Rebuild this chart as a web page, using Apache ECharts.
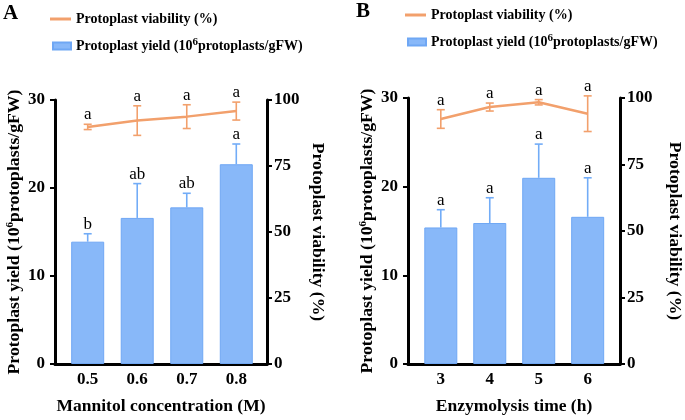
<!DOCTYPE html>
<html>
<head>
<meta charset="utf-8">
<script src="https://cdn.jsdelivr.net/npm/echarts@6/dist/echarts.min.js"></script>
<style>
  html, body { margin: 0; padding: 0; background: #fff; }
  #chart { width: 685px; height: 420px; }
</style>
</head>
<body>
<div id="chart"></div>
<script>
// Two-panel protoplast figure: yield bars (left axis) + viability line
// (right axis), panel A by mannitol concentration, panel B by digestion time.

// Panel A — mannitol concentration
const massLabels = ["0.5", "0.6", "0.7", "0.8"];
const massYield = [13.9, 16.6, 17.8, 22.7];
const massYieldErr = [0.9, 3.9, 1.6, 2.3];
const massYieldSig = ["b", "ab", "ab", "a"];
const massViab = [89.8, 92.2, 93.7, 95.8];
const massViabErr = [1.0, 5.6, 4.5, 3.4];
const massViabSig = ["a", "a", "a", "a"];

// Panel B — enzymolysis time
const timeLabels = ["3", "4", "5", "6"];
const timeYield = [15.4, 15.9, 21.0, 16.6];
const timeYieldErr = [2.0, 2.85, 3.8, 4.4];
const timeYieldSig = ["a", "a", "a", "a"];
const timeViab = [92.1, 96.6, 98.4, 94.1];
const timeViabErr = [3.5, 1.5, 1.0, 6.7];
const timeViabSig = ["a", "a", "a", "a"];

const FONT = "Liberation Serif";
const BAR = "#88b8f9";
const BAR_EDGE = "#6fa7f4";
const BAR_ERR = "#72acf7";
const LINE = "#f2a06c";
const VIAB_NAME = "Protoplast viability (%)";
const YIELD_NAME = "Protoplast yield (10{sup|6}protoplasts/gFW)";
const YIELD_LEGEND = "Protoplast yield";

const chart = echarts.init(document.getElementById("chart"), null, { renderer: "canvas" });

const richSup = {
  sup: { fontSize: 11, fontWeight: "bold", fontFamily: FONT, color: "#000", verticalAlign: "bottom", padding: [0, 0, 7, 0] },
};
const boldText = { fontFamily: FONT, fontWeight: "bold", fontSize: 17, color: "#000" };

function yAxis(grid, right, max, interval, name, gap) {
  return {
    type: "value", gridIndex: grid, position: right ? "right" : "left",
    min: 0, max, interval,
    name, nameLocation: "middle", nameRotate: right ? -90 : 90, nameGap: gap,
    nameTextStyle: { ...boldText, fontSize: 17.7, rich: richSup },
    axisLine: { show: true, onZero: false, lineStyle: { color: "#000", width: 3 } },
    axisTick: { show: true, length: 5, lineStyle: { color: "#000", width: 2 } },
    axisLabel: { ...boldText, margin: right ? 7 : 10 },
    splitLine: { show: false },
  };
}

function catAxis(grid, labels, min, max, title) {
  const idx = labels.map((_, i) => i);
  return {
    type: "value", gridIndex: grid, min, max,
    name: title, nameLocation: "middle", nameGap: 33,
    nameTextStyle: { ...boldText, fontSize: 17.5 },
    axisLine: { show: true, onZero: false, lineStyle: { color: "#000", width: 3 } },
    axisTick: { show: true, inside: true, length: 5, customValues: idx, lineStyle: { color: "#000", width: 2 } },
    axisLabel: { ...boldText, customValues: idx, margin: 7, formatter: (v) => labels[Math.round(v)] },
    splitLine: { show: false },
  };
}

function errBars(xi, yi, vals, errs, sig, color, both) {
  return {
    type: "custom", xAxisIndex: xi, yAxisIndex: yi, z: 4, clip: false,
    data: vals.map((v, i) => [i, v, errs[i]]),
    renderItem(params, api) {
      const x = api.value(0), v = api.value(1), e = api.value(2);
      const top = api.coord([x, v + e]);
      const bot = api.coord([x, both ? v - e : v]);
      const cap = 4;
      const st = { stroke: color, lineWidth: 1.6 };
      const kids = [
        { type: "line", shape: { x1: top[0], y1: top[1], x2: bot[0], y2: bot[1] }, style: st },
        { type: "line", shape: { x1: top[0] - cap, y1: top[1], x2: top[0] + cap, y2: top[1] }, style: st },
      ];
      if (both) {
        kids.push({ type: "line", shape: { x1: bot[0] - cap, y1: bot[1], x2: bot[0] + cap, y2: bot[1] }, style: st });
      }
      kids.push({
        type: "text",
        style: {
          text: sig[params.dataIndex], x: top[0], y: top[1] - 1,
          align: "center", verticalAlign: "bottom",
          fontFamily: FONT, fontSize: 17, fill: "#000",
        },
      });
      return { type: "group", children: kids };
    },
  };
}

// xi: panel x axis; yl/yr: left (yield) and right (viability) y axes.
function panelSeries(xi, yl, yr, yieldV, yieldE, yieldS, viabV, viabE, viabS) {
  return [
    {
      type: "bar", name: YIELD_LEGEND, xAxisIndex: xi, yAxisIndex: yl,
      barWidth: 33,
      itemStyle: { color: BAR, borderColor: BAR_EDGE, borderWidth: 1 },
      data: yieldV.map((v, i) => [i, v]),
    },
    errBars(xi, yl, yieldV, yieldE, yieldS, BAR_ERR, false),
    {
      type: "line", name: VIAB_NAME, xAxisIndex: xi, yAxisIndex: yr,
      showSymbol: false, symbol: "none", z: 3,
      lineStyle: { color: LINE, width: 2.5 }, itemStyle: { color: LINE },
      data: viabV.map((v, i) => [i, v]),
    },
    errBars(xi, yr, viabV, viabE, viabS, LINE, true),
  ];
}

function legends(left, top, top2) {
  const ts = { fontFamily: FONT, fontWeight: "bold", fontSize: 14, color: "#000", rich: richSup };
  return [
    {
      left, top, padding: 0, icon: "rect", itemWidth: 21, itemHeight: 3,
      data: [VIAB_NAME], textStyle: ts, selectedMode: false,
    },
    {
      left: left + 2, top: top2, padding: 0, icon: "rect", itemWidth: 18, itemHeight: 7,
      data: [YIELD_LEGEND], textStyle: ts, selectedMode: false,
      formatter: () => "Protoplast yield (10{sup|6}protoplasts/gFW)",
    },
  ];
}

chart.setOption({
  backgroundColor: "#fff",
  animation: false,
  title: [
    { text: "A", left: 3, top: 3, padding: 0, textStyle: { fontFamily: FONT, fontWeight: "bold", fontSize: 21, color: "#000" } },
    { text: "B", left: 356, top: 1, padding: 0, textStyle: { fontFamily: FONT, fontWeight: "bold", fontSize: 21, color: "#000" } },
  ],
  legend: [...legends(50, 12, 37), ...legends(405, 8, 33)],
  grid: [
    { left: 55, right: 418, top: 100, bottom: 55 },
    { left: 408, right: 59, top: 98, bottom: 55 },
  ],
  xAxis: [
    catAxis(0, massLabels, -0.66, 3.62, "Mannitol concentration (M)"),
    catAxis(1, timeLabels, -0.67, 3.66, "Enzymolysis time (h)"),
  ],
  yAxis: [
    yAxis(0, false, 30, 10, YIELD_NAME, 32),
    yAxis(0, true, 100, 25, VIAB_NAME, 42),
    yAxis(1, false, 30, 10, YIELD_NAME, 32),
    yAxis(1, true, 100, 25, VIAB_NAME, 46),
  ],
  series: [
    ...panelSeries(0, 0, 1, massYield, massYieldErr, massYieldSig, massViab, massViabErr, massViabSig),
    ...panelSeries(1, 2, 3, timeYield, timeYieldErr, timeYieldSig, timeViab, timeViabErr, timeViabSig),
  ],
});
</script>
</body>
</html>
